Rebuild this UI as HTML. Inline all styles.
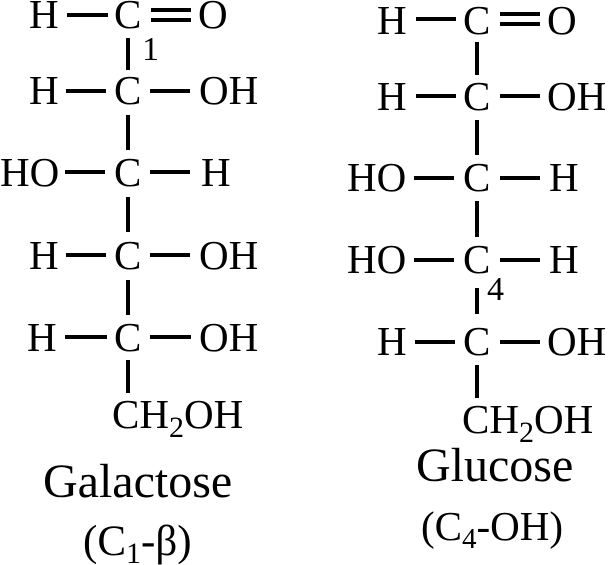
<!DOCTYPE html>
<html><head><style>body{margin:0;background:#fff}svg{display:block}</style></head><body>
<svg width="608" height="565" viewBox="0 0 608 565" font-family="Liberation Serif, serif" font-size="41" fill="#000">
<g stroke="#000" stroke-width="4">
<!-- left -->
<line x1="67" y1="15" x2="108" y2="15"/>
<line x1="151" y1="10" x2="191" y2="10"/><line x1="151" y1="20" x2="191" y2="20"/>
<line x1="66" y1="91" x2="106" y2="91"/><line x1="150" y1="91" x2="190" y2="91"/>
<line x1="65" y1="172" x2="105" y2="172"/><line x1="150" y1="172" x2="190" y2="172"/>
<line x1="66" y1="255" x2="106" y2="255"/><line x1="150" y1="255" x2="190" y2="255"/>
<line x1="65" y1="337" x2="107" y2="337"/><line x1="150" y1="337" x2="191" y2="337"/>
<line x1="128" y1="38" x2="128" y2="70"/><line x1="128" y1="115" x2="128" y2="150"/>
<line x1="128" y1="197" x2="128" y2="232"/><line x1="128" y1="280" x2="128" y2="315"/>
<line x1="128" y1="360" x2="128" y2="393"/>
<!-- right -->
<line x1="416" y1="19" x2="456" y2="19"/>
<line x1="500" y1="14" x2="540" y2="14"/><line x1="500" y1="24" x2="540" y2="24"/>
<line x1="416" y1="96" x2="456" y2="96"/><line x1="500" y1="96" x2="540" y2="96"/>
<line x1="414" y1="178" x2="454" y2="178"/><line x1="500" y1="178" x2="540" y2="178"/>
<line x1="414" y1="260" x2="454" y2="260"/><line x1="500" y1="260" x2="540" y2="260"/>
<line x1="415" y1="342" x2="455" y2="342"/><line x1="500" y1="342" x2="540" y2="342"/>
<line x1="477" y1="42" x2="477" y2="75"/><line x1="477" y1="120" x2="477" y2="155"/>
<line x1="477" y1="201" x2="477" y2="237"/><line x1="477" y1="288" x2="477" y2="314"/>
<line x1="477" y1="365" x2="477" y2="398"/>
</g>
<!-- left text -->
<text x="29" y="28">H</text><text x="114" y="28">C</text><text x="198" y="28">O</text>
<text x="142" y="60" font-size="34">1</text>
<text x="29" y="104">H</text><text x="114" y="104">C</text><text x="199" y="104">OH</text>
<text x="0" y="186">HO</text><text x="114" y="186">C</text><text x="201" y="186">H</text>
<text x="29" y="269">H</text><text x="114" y="269">C</text><text x="199" y="269">OH</text>
<text x="27" y="351">H</text><text x="114" y="351">C</text><text x="199" y="351">OH</text>
<text x="112" y="428">CH<tspan font-size="30" dy="9">2</tspan><tspan dy="-9">OH</tspan></text>
<text x="43" y="497" font-size="48">Galactose</text>
<text x="83" y="555" font-size="43">(C<tspan font-size="30" dy="8">1</tspan><tspan dy="-8">-β)</tspan></text>
<!-- right text -->
<text x="377" y="34">H</text><text x="463" y="34">C</text><text x="547" y="34">O</text>
<text x="377" y="110">H</text><text x="463" y="110">C</text><text x="547" y="110">OH</text>
<text x="347" y="191">HO</text><text x="463" y="191">C</text><text x="549" y="191">H</text>
<text x="347" y="273">HO</text><text x="463" y="273">C</text><text x="549" y="273">H</text>
<text x="487" y="300" font-size="34">4</text>
<text x="377" y="355">H</text><text x="463" y="355">C</text><text x="547" y="355">OH</text>
<text x="462" y="433">CH<tspan font-size="30" dy="9">2</tspan><tspan dy="-9">OH</tspan></text>
<text x="416" y="481" font-size="48">Glucose</text>
<text x="421" y="540" font-size="41">(C<tspan font-size="29" dy="8">4</tspan><tspan dy="-8">-OH)</tspan></text>
</svg>
</body></html>
